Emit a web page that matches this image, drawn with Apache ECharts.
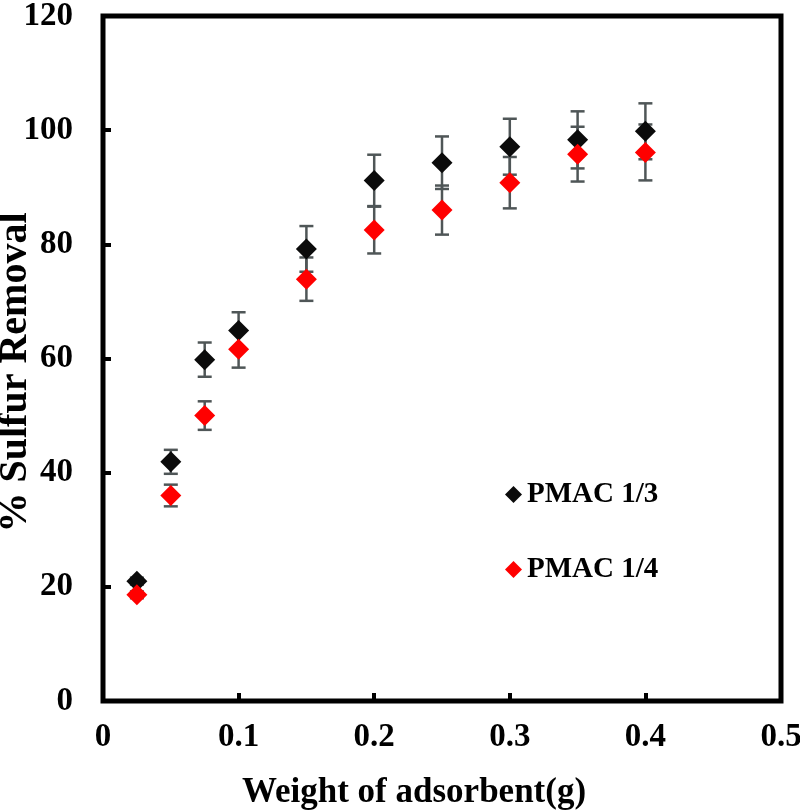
<!DOCTYPE html>
<html>
<head>
<meta charset="utf-8">
<script src="https://cdn.jsdelivr.net/npm/echarts@6/dist/echarts.min.js"></script>
<style>
  html, body { margin: 0; padding: 0; background: #fff; }
  #chart { width: 800px; height: 810px; }
</style>
</head>
<body>
<div id="chart"></div>
<script>
// ---- data ----
const weights = [0.025, 0.05, 0.075, 0.1, 0.15, 0.2, 0.25, 0.3, 0.35, 0.4];
const pmac13 = [21.0, 41.9, 59.8, 64.9, 79.2, 91.2, 94.3, 97.1, 98.3, 99.8];
const err13  = [0.6, 2.1, 3.0, 3.2, 4.0, 4.5, 4.6, 4.9, 5.0, 4.9];
const pmac14 = [18.6, 36.0, 50.0, 61.6, 73.9, 82.5, 86.0, 90.8, 95.8, 96.1];
const err14  = [0.6, 1.9, 2.5, 3.2, 3.8, 4.1, 4.3, 4.5, 4.8, 4.9];
const seriesNames = ['PMAC 1/3', 'PMAC 1/4'];
const xTicks = [0, 0.1, 0.2, 0.3, 0.4, 0.5];
const yTicks = [0, 20, 40, 60, 80, 100, 120];

const FONT = '"Liberation Serif", "Times New Roman", serif';

function pts(ys) { return weights.map((w, i) => [w, ys[i]]); }
function errData(ys, es) { return weights.map((w, i) => [w, ys[i] - es[i], ys[i] + es[i]]); }

function errorRender(params, api) {
  const x = api.value(0);
  const lo = api.coord([x, api.value(1)]);
  const hi = api.coord([x, api.value(2)]);
  const half = 7;
  const style = { stroke: '#4f5657', lineWidth: 2.5 };
  return {
    type: 'group',
    children: [
      { type: 'line', shape: { x1: lo[0], y1: lo[1], x2: hi[0], y2: hi[1] }, style },
      { type: 'line', shape: { x1: lo[0] - half, y1: lo[1], x2: lo[0] + half, y2: lo[1] }, style },
      { type: 'line', shape: { x1: hi[0] - half, y1: hi[1], x2: hi[0] + half, y2: hi[1] }, style }
    ]
  };
}

const chart = echarts.init(document.getElementById('chart'), null, { renderer: 'canvas' });
chart.setOption({
  animation: false,
  backgroundColor: '#fff',
  textStyle: { fontFamily: FONT },
  grid: {
    left: 103, right: 19, top: 16, bottom: 109,
    containLabel: false, outerBoundsMode: 'none',
    show: true, borderColor: '#000', borderWidth: 5, backgroundColor: 'transparent'
  },
  xAxis: {
    type: 'value', min: 0, max: 0.5, interval: 0.1,
    splitLine: { show: false },
    axisLine: { show: false },
    axisTick: { show: true, inside: true, length: 8, lineStyle: { color: '#000', width: 4 } },
    axisLabel: {
      margin: 20, fontSize: 33, fontWeight: 'bold', color: '#000', fontFamily: FONT,
      formatter: v => xTicks.includes(Math.round(v * 10) / 10) ? String(Math.round(v * 10) / 10) : ''
    },
    name: 'Weight of adsorbent(g)', nameLocation: 'middle', nameGap: 74, nameMoveOverlap: false,
    nameTextStyle: { fontSize: 35, fontWeight: 'bold', color: '#000', fontFamily: FONT, padding: [0, 56, 0, 0] }
  },
  yAxis: {
    type: 'value', min: 0, max: 120, interval: 20,
    splitLine: { show: false },
    axisLine: { show: false },
    axisTick: { show: true, inside: true, length: 8, lineStyle: { color: '#000', width: 4 } },
    axisLabel: {
      margin: 30, fontSize: 33, fontWeight: 'bold', color: '#000', fontFamily: FONT,
      formatter: v => yTicks.includes(v) ? String(v) : ''
    },
    name: '% Sulfur Removal', nameLocation: 'middle', nameGap: 67, nameRotate: 90, nameMoveOverlap: false,
    nameTextStyle: { fontSize: 40, fontWeight: 'bold', color: '#000', fontFamily: FONT, padding: [0, 28, 0, 0] }
  },
  legend: {
    data: seriesNames,
    orient: 'vertical', left: 500, top: 474, itemGap: 44,
    itemWidth: 17, itemHeight: 17, icon: 'diamond',
    textStyle: { fontSize: 29, fontWeight: 'bold', color: '#000', fontFamily: FONT, lineHeight: 31 }
  },
  series: [
    { type: 'custom', name: 'err13', renderItem: errorRender, data: errData(pmac13, err13), z: 1, silent: true },
    { type: 'custom', name: 'err14', renderItem: errorRender, data: errData(pmac14, err14), z: 1, silent: true },
    { type: 'scatter', name: seriesNames[0], data: pts(pmac13), symbol: 'diamond', symbolSize: 21,
      itemStyle: { color: '#0b0b0b', opacity: 1 }, z: 3 },
    { type: 'scatter', name: seriesNames[1], data: pts(pmac14), symbol: 'diamond', symbolSize: 21,
      itemStyle: { color: '#ff0000', opacity: 1 }, z: 4 }
  ]
});
</script>
</body>
</html>
